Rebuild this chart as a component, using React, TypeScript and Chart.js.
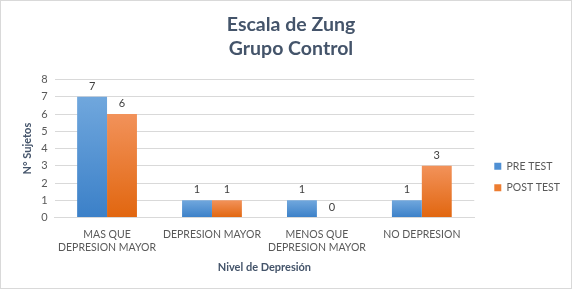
import React, { useEffect, useRef } from "react";
import { Chart, registerables } from "chart.js";

Chart.register(...registerables);

const categories: (string | string[])[] = [
  ["MAS QUE", "DEPRESION MAYOR"],
  "DEPRESION MAYOR",
  ["MENOS QUE", "DEPRESION MAYOR"],
  "NO DEPRESION",
];
const preTest = [7, 1, 1, 1];
const postTest = [6, 1, 0, 3];
const titleLines = ["Escala de Zung", "Grupo Control"];
const yTitle = "N° Sujetos";
const xTitle = "Nivel de Depresión";

const FONT = "Lato, 'Open Sans', sans-serif";
const LEGEND_SHIFT = 9;

function gradFill(top: string, bottom: string) {
  return (ctx: any) => {
    const chart = ctx.chart;
    const area = chart.chartArea;
    if (!area || ctx.type !== "data") return bottom;
    const ys = chart.scales.y;
    const v = ctx.parsed ? ctx.parsed.y : 0;
    const yTop = ys.getPixelForValue(v);
    const yBase = ys.getPixelForValue(0);
    if (Math.abs(yBase - yTop) < 1) return bottom;
    const g = chart.ctx.createLinearGradient(0, yTop, 0, yBase);
    g.addColorStop(0, top);
    g.addColorStop(1, bottom);
    return g;
  };
}

const valueLabels = {
  id: "valueLabels",
  afterDatasetsDraw(chart: any) {
    const ctx = chart.ctx;
    ctx.save();
    ctx.font = `11px ${FONT}`;
    ctx.fillStyle = "#404040";
    ctx.textAlign = "center";
    ctx.textBaseline = "bottom";
    chart.data.datasets.forEach((ds: any, i: number) => {
      const meta = chart.getDatasetMeta(i);
      meta.data.forEach((el: any, j: number) => {
        ctx.fillText(String(ds.data[j]), el.x, el.y - 5);
      });
    });
    ctx.restore();
  },
};

const legendShift = {
  id: "legendShift",
  afterLayout(chart: any) {
    if (chart.legend) {
      chart.legend.left += LEGEND_SHIFT;
      chart.legend.right += LEGEND_SHIFT;
    }
  },
};

export default function App() {
  const ref = useRef<HTMLCanvasElement | null>(null);
  useEffect(() => {
    document.body.style.margin = "0";
    const chart = new Chart(ref.current!, {
      type: "bar",
      data: {
        labels: categories,
        datasets: [
          {
            label: "PRE TEST",
            data: preTest,
            backgroundColor: gradFill("#70a7dd", "#3b80c8"),
            borderWidth: 0,
          },
          {
            label: "POST TEST",
            data: postTest,
            backgroundColor: gradFill("#f2925a", "#e1660f"),
            borderWidth: 0,
          },
        ],
      },
      options: {
        animation: false,
        responsive: false,
        maintainAspectRatio: false,
        layout: { padding: { left: 20, right: 10, top: 10, bottom: 14 } },
        datasets: { bar: { barPercentage: 1, categoryPercentage: 0.57 } },
        plugins: {
          title: {
            display: true,
            text: titleLines,
            color: "#44546a",
            font: { family: FONT, size: 19.5, weight: "bold", lineHeight: 1.22 },
            padding: { top: 2, bottom: 19 },
          },
          legend: {
            position: "right",
            title: {
              display: true,
              text: "",
              font: { family: FONT, size: 10 },
              padding: { top: 57, bottom: 0 },
            },
            labels: {
              boxWidth: 7,
              boxHeight: 7,
              color: "#595959",
              font: { family: FONT, size: 10.5 },
              padding: 11,
              generateLabels: (chart: any) =>
                chart.data.datasets.map((ds: any, i: number) => ({
                  text: ds.label,
                  fillStyle: i === 0 ? "#4f90d4" : "#ed7d31",
                  strokeStyle: "transparent",
                  lineWidth: 0,
                  datasetIndex: i,
                  fontColor: "#595959",
                })),
            },
          },
          tooltip: { enabled: false },
        },
        scales: {
          x: {
            grid: { display: false },
            border: { color: "#d9d9d9" },
            ticks: {
              color: "#595959",
              font: { family: FONT, size: 10.5 },
              maxRotation: 0,
              autoSkip: false,
            },
            title: {
              display: true,
              text: xTitle,
              color: "#44546a",
              font: { family: FONT, size: 11, weight: "bold" },
              padding: { top: 4, bottom: 0 },
            },
          },
          y: {
            min: 0,
            max: 8,
            grid: { color: "#d9d9d9", drawTicks: false },
            border: { display: false },
            ticks: {
              stepSize: 1,
              color: "#595959",
              font: { family: FONT, size: 11 },
              padding: 7,
            },
            title: {
              display: true,
              text: yTitle,
              color: "#44546a",
              font: { family: FONT, size: 11, weight: "bold" },
              padding: { top: 0, bottom: 0 },
            },
          },
        },
      },
      plugins: [valueLabels, legendShift],
    });
    return () => chart.destroy();
  }, []);
  return (
    <div
      style={{
        position: "fixed",
        left: 0,
        top: 0,
        width: 572,
        height: 289,
        boxSizing: "border-box",
        border: "1px solid #d9d9d9",
        background: "#fff",
      }}
    >
      <canvas ref={ref} width={570} height={287} style={{ display: "block" }} />
    </div>
  );
}
